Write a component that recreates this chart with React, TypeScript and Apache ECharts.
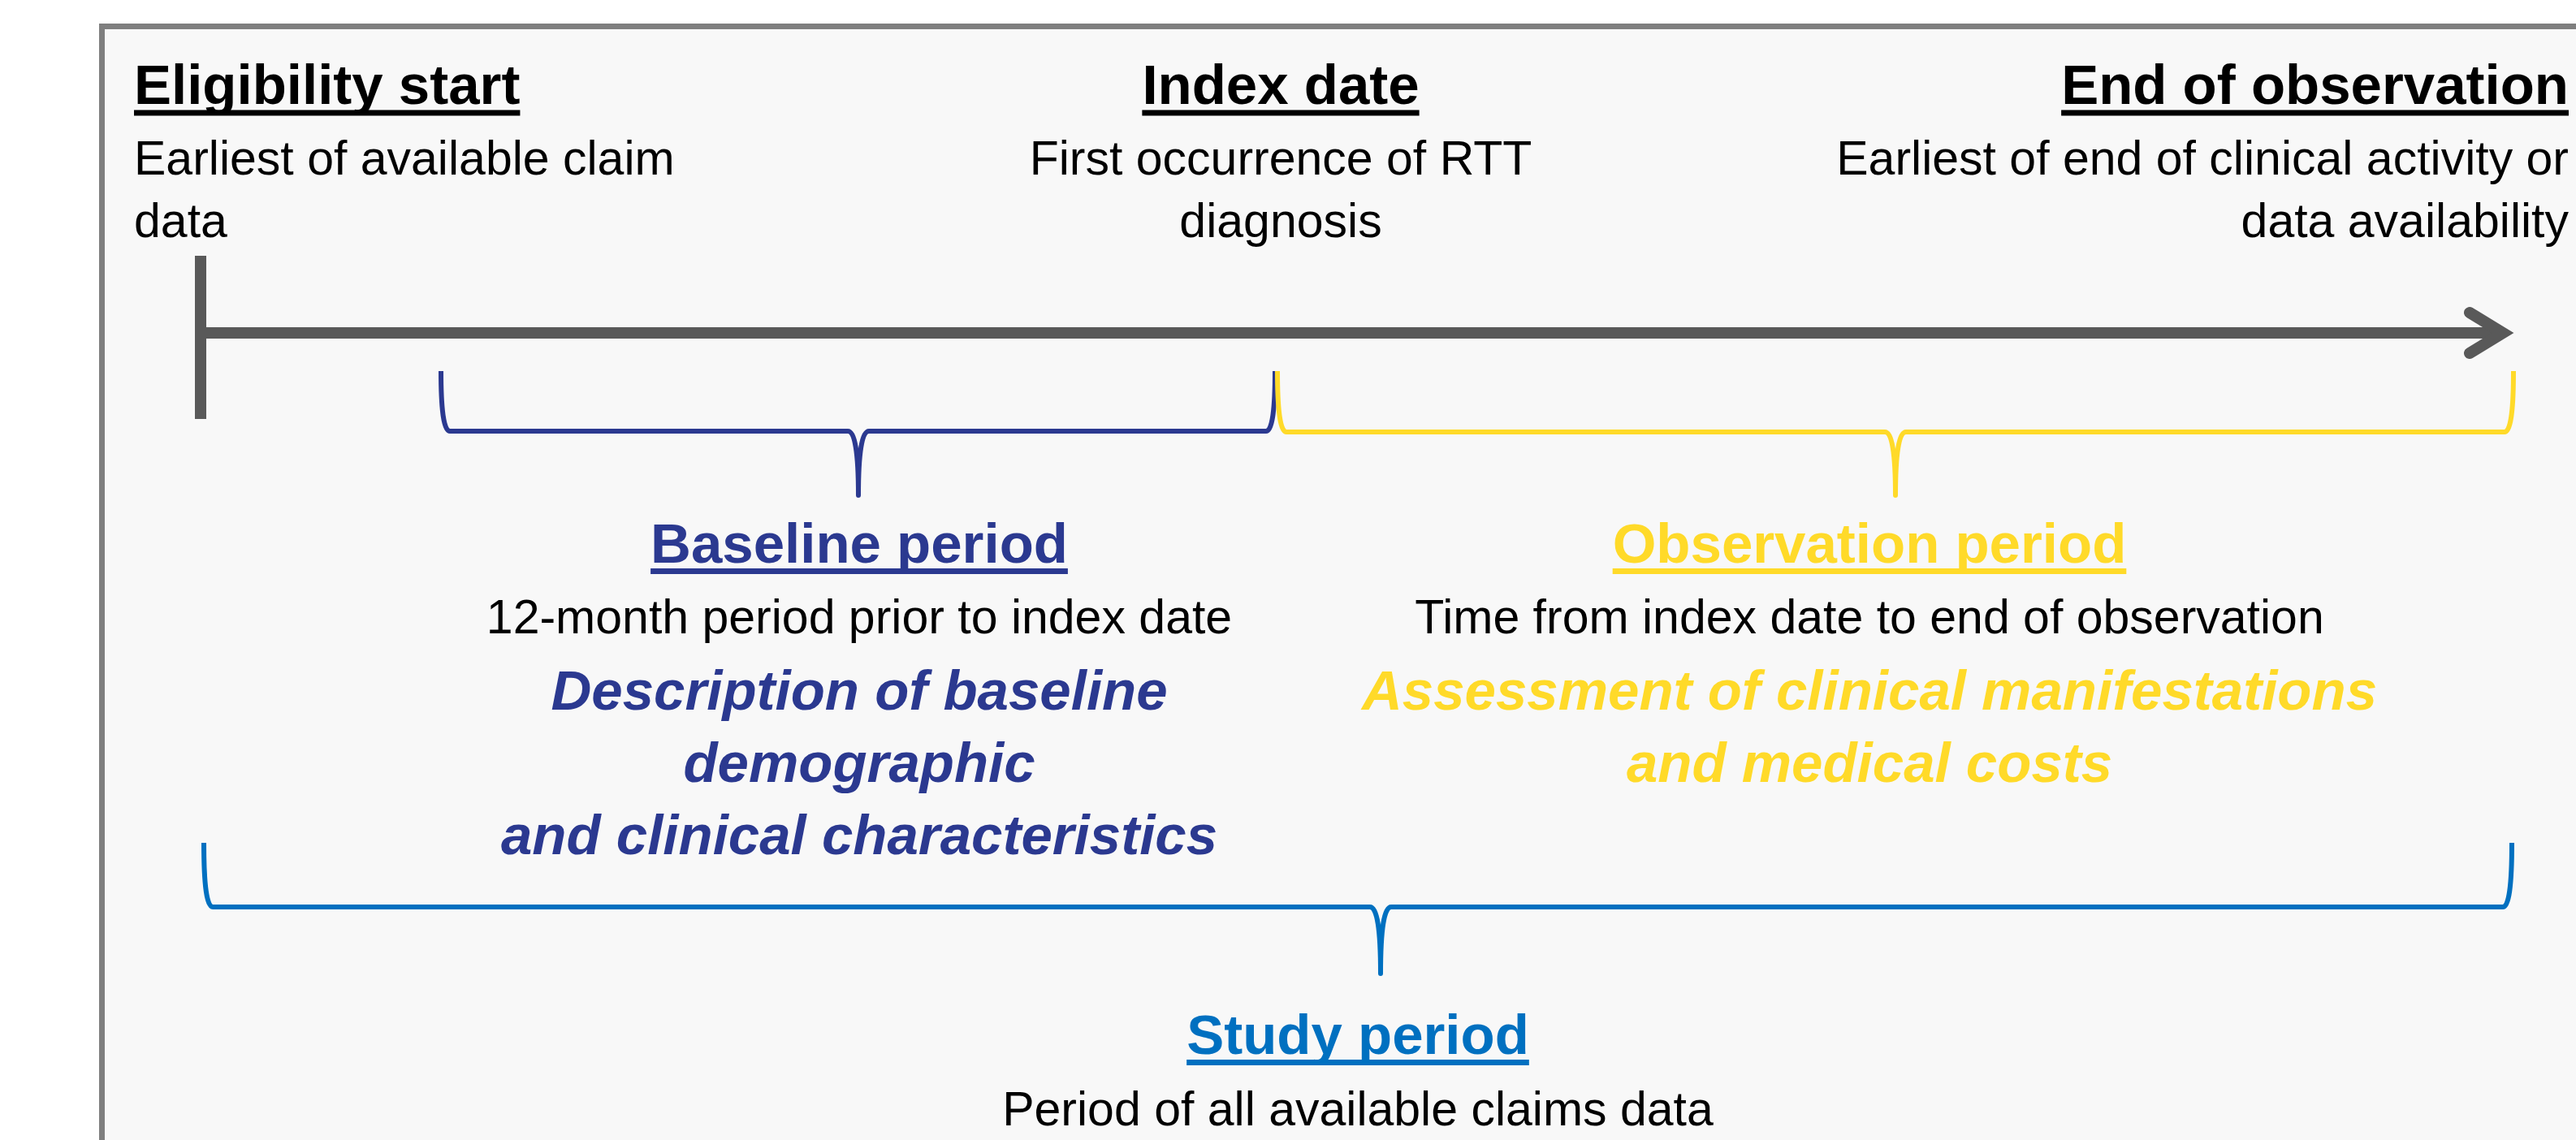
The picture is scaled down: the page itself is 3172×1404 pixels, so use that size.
import React, { useEffect, useRef } from "react";
import * as echarts from "echarts";

// ---------- content ----------
const milestoneTitles = ["Eligibility start", "Index date", "End of observation"];
const milestoneNotes = [
  ["Earliest of available claim", "data"],
  ["First occurrence of RTT", "diagnosis"],
  ["Earliest of end of clinical activity or", "data availability"],
];
const periodTitles = ["Baseline period", "Observation period", "Study period"];
const periodNotes = [
  "12-month period prior to index date",
  "Time from index date to end of observation",
  "Period of all available claims data",
];
const periodAims = [
  ["Description of baseline", "demographic", "and clinical characteristics"],
  ["Assessment of clinical manifestations", "and medical costs"],
  [],
];

// ---------- layout / style ----------
const W = 3172;
const H = 1404;
const FONT = '"Liberation Sans", Arial, Helvetica, sans-serif';
const TITLE_SIZE = 69;
const NOTE_SIZE = 59;
const AIM_SIZE = 69;
const CENTRAL = 0.3465; // central baseline offset (em) for Liberation Sans

const periodColors = ["#2B3990", "#FFDA29", "#0070C0"];
const milestoneX = [165, 1577, 3163];
const milestoneAlign = ["left", "center", "right"];
const periodCenterX = [1058, 2302, 1672];
const periodTitleBase = [693, 693, 1298];
const periodNoteBase = [780, 780, 1386];
const aimBase0 = 874;
const aimStep = 89;

// braces: x0, x1, yTop, yH, xt, yB
const braces = [
  [543, 1570, 457, 531, 1057, 610],
  [1573, 3095, 457, 532, 2334, 610],
  [251, 3093, 1038, 1117, 1700, 1199],
];

function measure(text: string, font: string): number {
  const c = document.createElement("canvas");
  const ctx = c.getContext("2d")!;
  ctx.font = font;
  return ctx.measureText(text).width;
}

function bracePath(b: number[]): string {
  const [x0, x1, yTop, yH, xt, yB] = b;
  const r = 11;
  const c = 13;
  return (
    `M${x0} ${yTop} Q${x0} ${yH} ${x0 + r} ${yH} L${xt - c} ${yH} ` +
    `Q${xt} ${yH} ${xt} ${yB} Q${xt} ${yH} ${xt + c} ${yH} ` +
    `L${x1 - r} ${yH} Q${x1} ${yH} ${x1} ${yTop}`
  );
}

function textEl(
  text: string,
  x: number,
  baseline: number,
  size: number,
  opts: { bold?: boolean; italic?: boolean; color?: string; align?: string; underline?: boolean }
): any[] {
  const align = opts.align || "center";
  const weight = opts.bold ? "bold" : "normal";
  const style = opts.italic ? "italic" : "normal";
  const color = opts.color || "#000000";
  const els: any[] = [
    {
      type: "text",
      x,
      y: baseline - CENTRAL * size,
      style: {
        text,
        fontSize: size,
        fontWeight: weight,
        fontStyle: style,
        fontFamily: FONT,
        fill: color,
        align,
        verticalAlign: "middle",
        textAlign: align,
        textVerticalAlign: "middle",
      },
    },
  ];
  if (opts.underline) {
    const w = measure(text, `${style} ${weight} ${size}px ${FONT}`);
    const left = align === "left" ? x : align === "center" ? x - w / 2 : x - w;
    els.push({
      type: "rect",
      shape: { x: left, y: baseline + 7, width: w, height: 7 },
      style: { fill: color },
    });
  }
  return els;
}

export default function App() {
  const ref = useRef<HTMLDivElement>(null);

  useEffect(() => {
    document.body.style.margin = "0";
    const chart = echarts.init(ref.current!, null, { renderer: "svg", width: W, height: H });

    const braceNames = braces.map((b, i) => {
      const name = `brace${i}`;
      try {
        echarts.graphic.registerShape(name, echarts.graphic.extendPath(bracePath(b), {}));
      } catch (e) {}
      return name;
    });

    const elements: any[] = [];

    // frame
    elements.push({
      type: "rect",
      shape: { x: 125.5, y: 32.5, width: W + 100, height: H + 100 },
      style: { fill: "#F8F8F8", stroke: "#7F7F7F", lineWidth: 7 },
    });

    // timeline
    elements.push({
      type: "line",
      shape: { x1: 247, y1: 315, x2: 247, y2: 516 },
      style: { stroke: "#595959", lineWidth: 14, lineCap: "butt" },
    });
    elements.push({
      type: "line",
      shape: { x1: 247, y1: 410, x2: 3082, y2: 410 },
      style: { stroke: "#595959", lineWidth: 14, lineCap: "butt" },
    });
    elements.push({
      type: "polyline",
      shape: { points: [[3041, 385], [3082, 410], [3041, 435]] },
      style: { stroke: "#595959", lineWidth: 14, lineCap: "round", lineJoin: "miter", fill: "none" },
    });

    // braces
    braceNames.forEach((name, i) => {
      elements.push({
        type: name,
        x: 0,
        y: 0,
        style: { fill: "none", stroke: periodColors[i], lineWidth: 6, lineJoin: "round" },
      });
    });

    // milestones
    milestoneTitles.forEach((t, i) => {
      elements.push(
        ...textEl(t, milestoneX[i], 128.6, TITLE_SIZE, { bold: true, align: milestoneAlign[i], underline: true })
      );
      milestoneNotes[i].forEach((n, j) => {
        elements.push(...textEl(n, milestoneX[i], 215.4 + j * 77.5, NOTE_SIZE, { align: milestoneAlign[i] }));
      });
    });

    // periods
    periodTitles.forEach((t, i) => {
      elements.push(
        ...textEl(t, periodCenterX[i], periodTitleBase[i], TITLE_SIZE, {
          bold: true,
          color: periodColors[i],
          underline: true,
        })
      );
      elements.push(...textEl(periodNotes[i], periodCenterX[i], periodNoteBase[i], NOTE_SIZE, {}));
      periodAims[i].forEach((a, j) => {
        elements.push(
          ...textEl(a, periodCenterX[i], aimBase0 + j * aimStep, AIM_SIZE, {
            bold: true,
            italic: true,
            color: periodColors[i],
          })
        );
      });
    });

    chart.setOption({
      animation: false,
      backgroundColor: "#FFFFFF",
      graphic: { elements },
    });

    return () => chart.dispose();
  }, []);

  return <div ref={ref} style={{ position: "absolute", left: 0, top: 0, width: W, height: H }} />;
}
